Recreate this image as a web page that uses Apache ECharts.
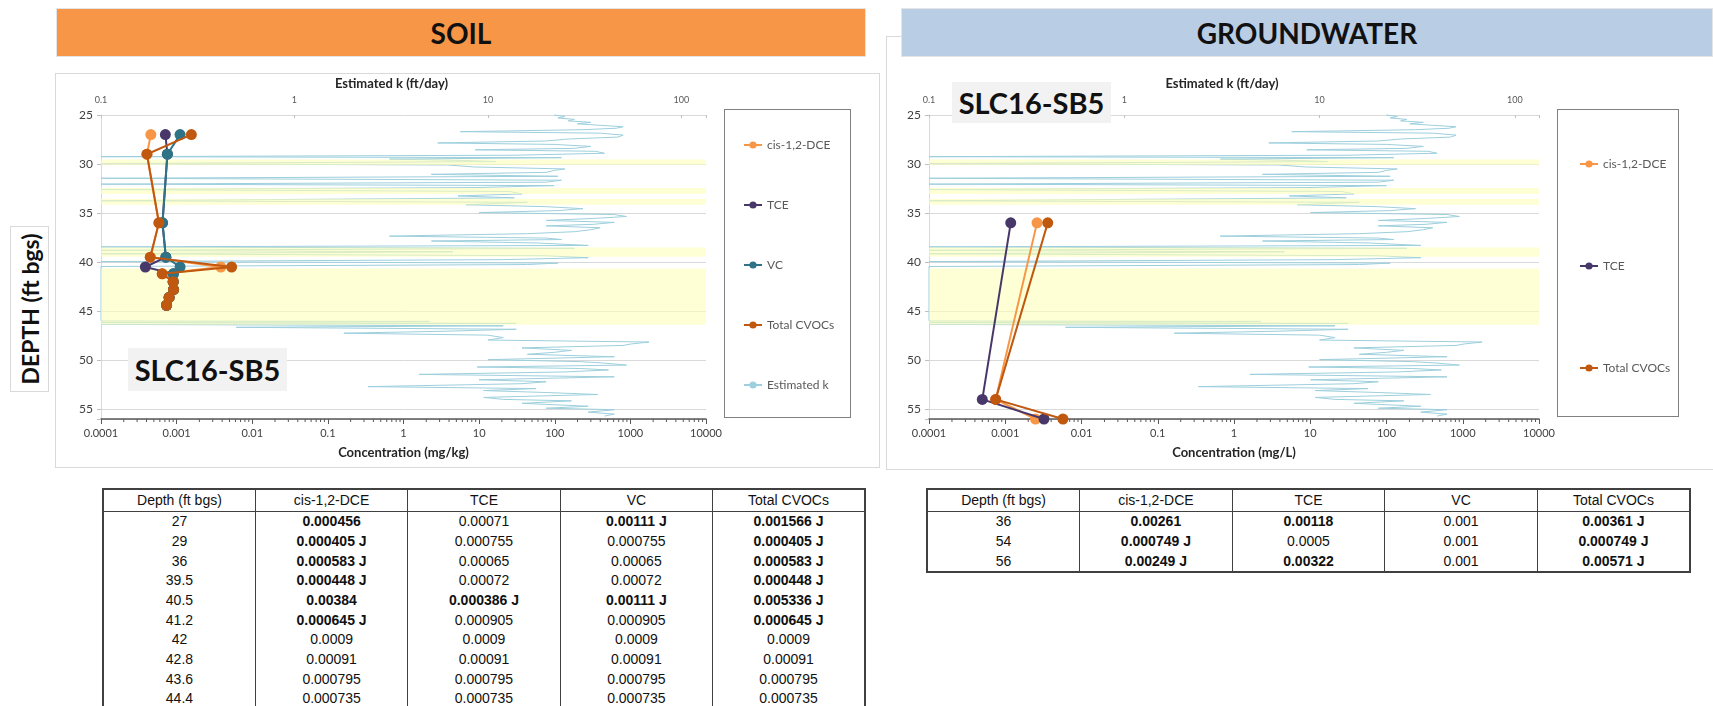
<!DOCTYPE html>
<html><head><meta charset="utf-8">
<script src="https://cdn.jsdelivr.net/npm/echarts@6/dist/echarts.min.js"></script>
<style>
html,body{margin:0;padding:0;width:1713px;height:706px;overflow:hidden;background:#fff;font-family:Lato,'Open Sans',sans-serif;}
.abs{position:absolute;box-sizing:border-box;}
#chart{position:absolute;left:0;top:0;width:1713px;height:706px;z-index:2;}
.banner{z-index:4;display:flex;align-items:center;justify-content:center;font-weight:bold;font-size:28px;color:#111;border:1px solid #e4e4e4;}
.frame{border:1px solid #d9d9d9;z-index:0;background:#fff;}
.legbox{border:1.5px solid #808080;z-index:1;}
.slc{background:#f2f2f2;z-index:3;display:flex;align-items:center;justify-content:center;font-weight:bold;font-size:29px;color:#111;}
.depth{z-index:3;border:1px solid #d9d9d9;background:#fff;}
.depth span{position:absolute;left:50%;top:50%;transform:translate(-50%,-50%) rotate(-90deg);white-space:nowrap;font-weight:bold;font-size:23px;color:#111;}
table{position:absolute;z-index:4;border-collapse:collapse;table-layout:fixed;font-family:'Liberation Sans',Arial,sans-serif;font-size:14px;color:#111;border:2px solid #404040;background:#fff;}
td,th{padding:0;text-align:center;height:19.66px;line-height:19px;border-left:1px solid #404040;border-right:1px solid #404040;white-space:nowrap;}
th{font-weight:normal;height:21px;border-bottom:1px solid #404040;}
td.b{font-weight:bold;}
</style></head>
<body>
<div class="abs frame" style="left:55px;top:73px;width:825px;height:395px;"></div>
<div class="abs frame" style="left:886px;top:36px;width:900px;height:434px;"></div>
<div class="abs banner" style="left:56px;top:8px;width:810px;height:49px;background:#F79646;">SOIL</div>
<div class="abs banner" style="left:901px;top:8px;width:812px;height:49px;background:#B9CDE5;">GROUNDWATER</div>
<div class="abs legbox" style="left:724px;top:109px;width:127px;height:309px;"></div>
<div class="abs legbox" style="left:1557px;top:109px;width:122px;height:308px;"></div>
<div class="abs depth" style="left:10px;top:226px;width:39px;height:166px;"><span>DEPTH (ft bgs)</span></div>
<div class="abs slc" style="left:128px;top:348px;width:159px;height:43px;">SLC16-SB5</div>
<div class="abs slc" style="left:952px;top:82px;width:159px;height:41px;">SLC16-SB5</div>
<div id="chart"></div>
<table id="soilTable" style="left:102px;top:488px;width:764px;"></table>
<table id="gwTable" style="left:926px;top:488px;width:765px;"></table>
<script>
// ---------------- DATA ----------------
const tableHeaders = ['Depth (ft bgs)', 'cis-1,2-DCE', 'TCE', 'VC', 'Total CVOCs'];

// Soil (mg/kg); flags: '' detected, 'J' detected estimated, 'U' non-detect (reporting limit)
const soilDepth = [27, 29, 36, 39.5, 40.5, 41.2, 42, 42.8, 43.6, 44.4];
const soilCis   = [0.000456, 0.000405, 0.000583, 0.000448, 0.00384, 0.000645, 0.0009, 0.00091, 0.000795, 0.000735];
const soilTce   = [0.00071, 0.000755, 0.00065, 0.00072, 0.000386, 0.000905, 0.0009, 0.00091, 0.000795, 0.000735];
const soilVc    = [0.00111, 0.000755, 0.00065, 0.00072, 0.00111, 0.000905, 0.0009, 0.00091, 0.000795, 0.000735];
const soilTotal = [0.001566, 0.000405, 0.000583, 0.000448, 0.005336, 0.000645, 0.0009, 0.00091, 0.000795, 0.000735];
const soilCisFlag   = ['', 'J', 'J', 'J', '', 'J', 'U', 'U', 'U', 'U'];
const soilTceFlag   = ['U', 'U', 'U', 'U', 'J', 'U', 'U', 'U', 'U', 'U'];
const soilVcFlag    = ['J', 'U', 'U', 'U', 'J', 'U', 'U', 'U', 'U', 'U'];
const soilTotalFlag = ['J', 'J', 'J', 'J', 'J', 'J', 'U', 'U', 'U', 'U'];

// Groundwater (mg/L)
const gwDepth = [36, 54, 56];
const gwCis   = [0.00261, 0.000749, 0.00249];
const gwTce   = [0.00118, 0.0005, 0.00322];
const gwVc    = [0.001, 0.001, 0.001];
const gwTotal = [0.00361, 0.000749, 0.00571];
const gwCisFlag   = ['', 'J', 'J'];
const gwTceFlag   = ['', 'U', ''];
const gwVcFlag    = ['U', 'U', 'U'];
const gwTotalFlag = ['J', 'J', 'J'];

// Estimated hydraulic conductivity profile (ft/day) vs depth (ft bgs)
const kDepth = [25.0,25.15,25.3,25.45,25.6,25.75,25.9,26.05,26.2,26.35,26.5,26.7,26.85,27.05,27.25,27.45,27.65,27.85,28.0,28.2,
  28.4,28.55,28.7,28.9,29.1,29.25,29.35,29.5,29.65,29.75,29.95,30.1,30.3,30.5,30.65,30.85,31.05,31.25,31.45,31.65,
  31.85,32.05,32.2,32.4,32.6,32.8,33.05,33.25,33.45,33.75,33.9,34.15,34.35,34.55,34.75,34.95,35.15,35.35,35.55,35.75,
  35.95,36.15,36.3,36.5,36.7,36.9,37.1,37.35,37.55,37.7,37.85,38.05,38.3,38.45,38.6,38.8,38.95,39.15,39.35,39.55,
  39.75,39.95,40.1,40.25,40.45,46.0,46.05,46.15,46.25,46.35,46.5,46.65,46.85,47.05,47.25,47.45,47.7,47.95,48.15,48.35,
  48.5,48.75,49.0,49.2,49.4,49.65,49.95,50.15,50.3,50.5,50.7,50.85,51.0,51.2,51.45,51.7,51.85,52.0,52.2,52.4,
  52.7,52.9,53.1,53.3,53.5,53.8,54.0,54.15,54.4,54.7,54.9,55.05,55.3,55.5,55.7];
const kValue = [22,25,23,28,26,34,29,38,50,46,31,7.2,38,50,47,26,20,5.5,22,34,
  28,8.6,36,40,14,0.1,24,3.1,8,11,0.1,6.2,8.5,25,22,20,5.1,23,0.1,24,
  20,0.1,22,8.6,0.1,13,15,7,13.7,0.1,16,7.7,20,31,23,9,45,52,35,20,
  45,35,20,38,34,28,16,3.1,20,24,5.1,18,33,0.1,28,0.1,6.6,0.1,20,33,
  12,0.1,23,16,0.1,0.1,5,0.1,14,0.1,12,0.5,14,6,1.8,10,12,10,68,55,
  50,15,27,22,16,45,10,30,40,52,8.8,30,42,25,4.4,45,20,9,20,15,
  2.4,17.7,9.5,20,37,9.5,12,27,15,33,20,45,33,45,40];

// Low-permeability (shaded) depth intervals
const bandTop    = [29.55, 32.45, 33.55, 38.5, 40.65];
const bandBottom = [30.1, 33.05, 34.15, 39.45, 46.4];

// Axis ranges / ticks
const depthMin = 25, depthMax = 56, depthStep = 5;
const concMin = 0.0001, concMax = 10000;
const kMin = 0.1, kMaxSoil = 134, kMaxGw = 133;
const minorTicks = [];
for (let e = -4; e < 4; e++) for (let m = 2; m <= 9; m++) minorTicks.push(+(m * Math.pow(10, e)).toPrecision(3));

// Colors
const C_CIS = '#F79646', C_TCE = '#48386A', C_VC = '#2E7386', C_TOT = '#C0580F', C_K = '#9dcfdc';

// ---------------- TABLES ----------------
function cellText(v, f) { return f === 'J' ? v + ' J' : String(v); }
function buildTable(id, depths, cols, flags) {
  const t = document.getElementById(id);
  let h = '<colgroup>' + tableHeaders.map(() => '<col style="width:20%">').join('') + '</colgroup>';
  h += '<tr>' + tableHeaders.map(x => '<th>' + x + '</th>').join('') + '</tr>';
  depths.forEach((d, i) => {
    h += '<tr><td>' + d + '</td>';
    cols.forEach((c, j) => {
      const f = flags[j][i];
      h += '<td class="' + (f === 'U' ? '' : 'b') + '">' + cellText(c[i], f) + '</td>';
    });
    h += '</tr>';
  });
  t.innerHTML = h;
}
buildTable('soilTable', soilDepth, [soilCis, soilTce, soilVc, soilTotal], [soilCisFlag, soilTceFlag, soilVcFlag, soilTotalFlag]);
buildTable('gwTable', gwDepth, [gwCis, gwTce, gwVc, gwTotal], [gwCisFlag, gwTceFlag, gwVcFlag, gwTotalFlag]);

// ---------------- CHART ----------------
const FONT = 'Lato';
function powFmt(v) {
  const l = Math.log10(v), e = Math.round(l);
  if (Math.abs(l - e) > 1e-6) return '';
  return e < 0 ? Math.pow(10, e).toFixed(-e) : String(Math.round(Math.pow(10, e)));
}
const grids = [
  { left: 101, top: 115, width: 605, height: 304 },
  { left: 929, top: 115, width: 610, height: 304 }
];
const xAxes = [], yAxes = [], series = [];
function addPanel(g, concName, kMax) {
  const concIdx = xAxes.length;
  xAxes.push({ type: 'log', logBase: 10, gridIndex: g, min: concMin, max: concMax, position: 'bottom',
    name: concName, nameLocation: 'middle', nameGap: 27,
    nameTextStyle: { fontWeight: 'bold', fontSize: 13, color: '#262626', fontFamily: FONT },
    axisLine: { onZero: false, lineStyle: { color: '#595959', width: 1.5 } },
    axisTick: { length: 5, lineStyle: { color: '#595959' } },
    axisLabel: { formatter: powFmt, fontSize: 11, color: '#404040', margin: 9, fontFamily: FONT },
    splitLine: { show: false } });
  const kIdx = xAxes.length;
  xAxes.push({ type: 'log', logBase: 10, gridIndex: g, min: kMin, max: kMax, position: 'top',
    name: 'Estimated k (ft/day)', nameLocation: 'middle', nameGap: 25,
    nameTextStyle: { fontWeight: 'bold', fontSize: 13, color: '#262626', fontFamily: FONT, padding: [0, 24, 0, 0] },
    axisLine: { show: false, onZero: false },
    axisTick: { show: true, inside: true, length: 3, lineStyle: { color: '#bfbfbf' } },
    axisLabel: { formatter: powFmt, fontSize: 9, color: '#595959', margin: 10, fontFamily: FONT },
    splitLine: { show: false } });
  const yIdx = yAxes.length;
  yAxes.push({ type: 'value', gridIndex: g, inverse: true, min: depthMin, max: depthMax, interval: depthStep,
    axisLine: { show: true, onZero: false, lineStyle: { color: '#d9d9d9' } },
    axisTick: { show: true, length: 4, lineStyle: { color: '#bfbfbf' } },
    axisLabel: { fontSize: 12, color: '#404040', margin: 8, fontFamily: FONT,
      formatter: v => (v % depthStep === 0 ? String(v) : '') },
    splitLine: { lineStyle: { color: '#d9d9d9' } } });
  // k profile
  series.push({ type: 'line', name: 'Estimated k', xAxisIndex: kIdx, yAxisIndex: yIdx,
    data: kDepth.map((d, i) => [kValue[i], d]), symbol: 'none', clip: false,
    lineStyle: { color: C_K, width: 1 }, itemStyle: { color: C_K }, z: 2, silent: true });
  // shaded bands
  series.push({ type: 'custom', name: 'bands', xAxisIndex: concIdx, yAxisIndex: yIdx, z: 3, silent: true,
    data: bandTop.map((t, i) => [t, bandBottom[i]]), encode: { y: [0, 1] },
    renderItem: (params, api) => {
      const cs = params.coordSys;
      const y0 = api.coord([1, api.value(0)])[1], y1 = api.coord([1, api.value(1)])[1];
      return { type: 'rect', shape: { x: cs.x, y: y0, width: cs.width, height: y1 - y0 },
        style: { fill: 'rgba(255,255,185,0.6)' } };
    } });
  // minor ticks on concentration axis
  series.push({ type: 'custom', name: 'minor', xAxisIndex: concIdx, yAxisIndex: yIdx, z: 6, silent: true, clip: false,
    data: minorTicks.map(v => [v, depthMax]), encode: { x: 0, y: 1 },
    renderItem: (params, api) => {
      const p = api.coord([api.value(0), api.value(1)]);
      return { type: 'line', shape: { x1: p[0], y1: p[1], x2: p[0], y2: p[1] + 3 },
        style: { stroke: '#595959', lineWidth: 1 } };
    } });
  return { concIdx, yIdx };
}
function conc(name, ax, depths, vals, color, z) {
  series.push({ type: 'line', name, xAxisIndex: ax.concIdx, yAxisIndex: ax.yIdx,
    data: depths.map((d, i) => [vals[i], d]), symbol: 'circle', symbolSize: 11, showAllSymbol: true,
    lineStyle: { color, width: 2 }, itemStyle: { color }, z });
}
const soilAx = addPanel(0, 'Concentration (mg/kg)', kMaxSoil);
conc('cis-1,2-DCE', soilAx, soilDepth, soilCis, C_CIS, 5);
conc('TCE', soilAx, soilDepth, soilTce, C_TCE, 6);
conc('VC', soilAx, soilDepth, soilVc, C_VC, 7);
conc('Total CVOCs', soilAx, soilDepth, soilTotal, C_TOT, 8);
const gwAx = addPanel(1, 'Concentration (mg/L)', kMaxGw);
conc('cis-1,2-DCE', gwAx, gwDepth, gwCis, C_CIS, 5);
conc('TCE', gwAx, gwDepth, gwTce, C_TCE, 6);
conc('Total CVOCs', gwAx, gwDepth, gwTotal, C_TOT, 8);

const legendCommon = { orient: 'vertical', padding: 0, itemWidth: 18, itemHeight: 9, selectedMode: false,
  textStyle: { fontSize: 12, color: '#595959', fontFamily: FONT } };
const chart = echarts.init(document.getElementById('chart'), null, { renderer: 'canvas' });
chart.setOption({
  animation: false,
  backgroundColor: 'transparent',
  grid: grids,
  xAxis: xAxes,
  yAxis: yAxes,
  legend: [
    Object.assign({}, legendCommon, { data: ['cis-1,2-DCE', 'TCE', 'VC', 'Total CVOCs', 'Estimated k'], left: 743, top: 139, itemGap: 48 }),
    Object.assign({}, legendCommon, { data: ['cis-1,2-DCE', 'TCE', 'Total CVOCs'], left: 1579, top: 158, itemGap: 90 })
  ],
  series
});
</script>
</body></html>
